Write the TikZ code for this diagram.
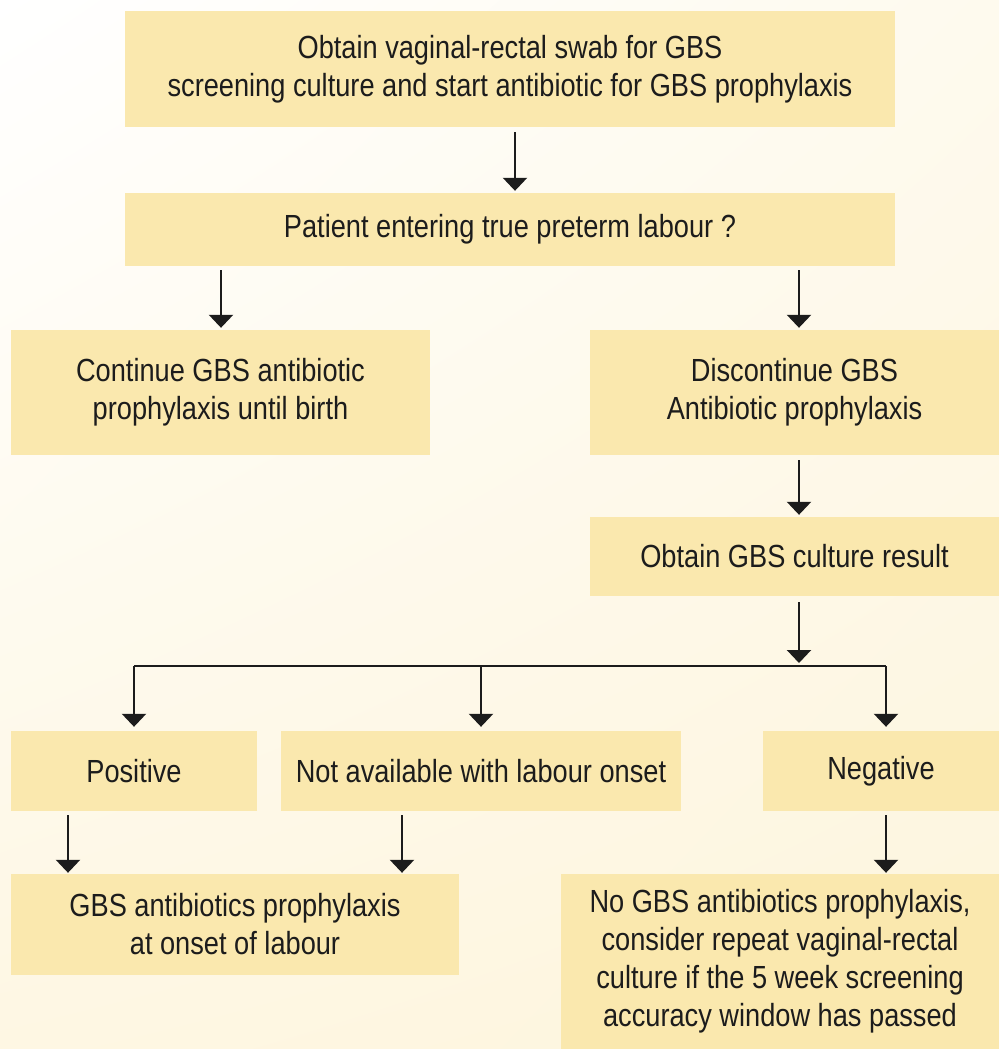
\documentclass[tikz,border=0pt]{standalone}
\usepackage{fontspec}
\setmainfont[FakeStretch=0.85]{Liberation Sans}
\usetikzlibrary{arrows.meta,calc,shadings}
\definecolor{boxfill}{RGB}{250,232,174}
\definecolor{bgA}{RGB}{255,255,255}
\definecolor{bgB}{RGB}{254,250,238}
\definecolor{bgC}{RGB}{254,247,227}
\definecolor{bgD}{RGB}{253,245,221}
\definecolor{ink}{RGB}{28,28,28}
\tikzset{
  box/.style={fill=boxfill, draw=none, inner sep=0pt, align=center, text=ink,
    font=\fontsize{32}{38}\selectfont},
  arr/.style={draw=ink, line width=2.4pt, -{Triangle[width=24pt,length=13pt]}},
  ln/.style={draw=ink, line width=2.4pt},
}
\newcommand{\bx}[6]{% name, x1, y1, x2, y2, text
  \node[box, minimum width={#4-#2}, minimum height={#5-#3}] (#1) at ({(#2+#4)/2},{(#3+#5)/2}) {#6};}
\begin{document}
\begin{tikzpicture}[x=1pt,y=-1pt]
\useasboundingbox (0,0) rectangle (999,1049);
\shade[upper left=bgA, upper right=bgB, lower left=bgC, lower right=bgD] (0,0) rectangle (999,1049);
\bx{b1}{125}{11}{895}{127}{Obtain vaginal-rectal swab for GBS\\screening culture and start antibiotic for GBS prophylaxis}
\bx{b2}{125}{193}{895}{266}{Patient entering true preterm labour ?}
\bx{b3l}{11}{330}{430}{455}{Continue GBS antibiotic\\prophylaxis until birth}
\bx{b3r}{590}{330}{999}{455}{Discontinue GBS\\Antibiotic prophylaxis}
\bx{b4}{590}{517}{999}{596}{Obtain GBS culture result}
\bx{pos}{11}{731}{257}{811}{Positive}
\bx{na}{281}{731}{681}{811}{Not available with labour onset}
\bx{neg}{763}{731}{999}{811}{Negative\vphantom{p}}
\bx{gbs}{11}{874}{459}{975}{GBS antibiotics prophylaxis\\at onset of labour}
\bx{nogbs}{561}{874}{999}{1049}{No GBS antibiotics prophylaxis,\\consider repeat vaginal-rectal\\culture if the 5 week screening\\accuracy window has passed}
\coordinate (xa) at (515,0);
\coordinate (xb) at (221,0);
\coordinate (xc) at (799,0);
\coordinate (xd) at (134,0);
\coordinate (xe) at (481,0);
\coordinate (xf) at (886,0);
\coordinate (xg) at (68,0);
\coordinate (xh) at (402,0);
\coordinate (split) at (799,666);
\coordinate (sl) at (134,666);
\coordinate (sr) at (886,666);
\draw[arr] ($(b1.south -| xa)+(0,5)$) -- ($(b2.north -| xa)+(0,-2)$);
\draw[arr] ($(b2.south -| xb)+(0,4)$) -- ($(b3l.north -| xb)+(0,-2)$);
\draw[arr] ($(b2.south -| xc)+(0,4)$) -- ($(b3r.north -| xc)+(0,-2)$);
\draw[arr] ($(b3r.south -| xc)+(0,5)$) -- ($(b4.north -| xc)+(0,-2)$);
\draw[arr] ($(b4.south -| xc)+(0,6)$) -- ($(split)+(0,-3)$);
\draw[ln] (sl) -- (sr);
\draw[arr] (sl) -- ($(pos.north -| xd)+(0,-4)$);
\draw[arr] (split -| xe) -- ($(na.north -| xe)+(0,-4)$);
\draw[arr] (sr) -- ($(neg.north -| xf)+(0,-4)$);
\draw[arr] ($(pos.south -| xg)+(0,4)$) -- ($(gbs.north -| xg)+(0,-1)$);
\draw[arr] ($(na.south -| xh)+(0,4)$) -- ($(gbs.north -| xh)+(0,-1)$);
\draw[arr] ($(neg.south -| xf)+(0,4)$) -- ($(nogbs.north -| xf)+(0,-1)$);
\end{tikzpicture}
\end{document}
